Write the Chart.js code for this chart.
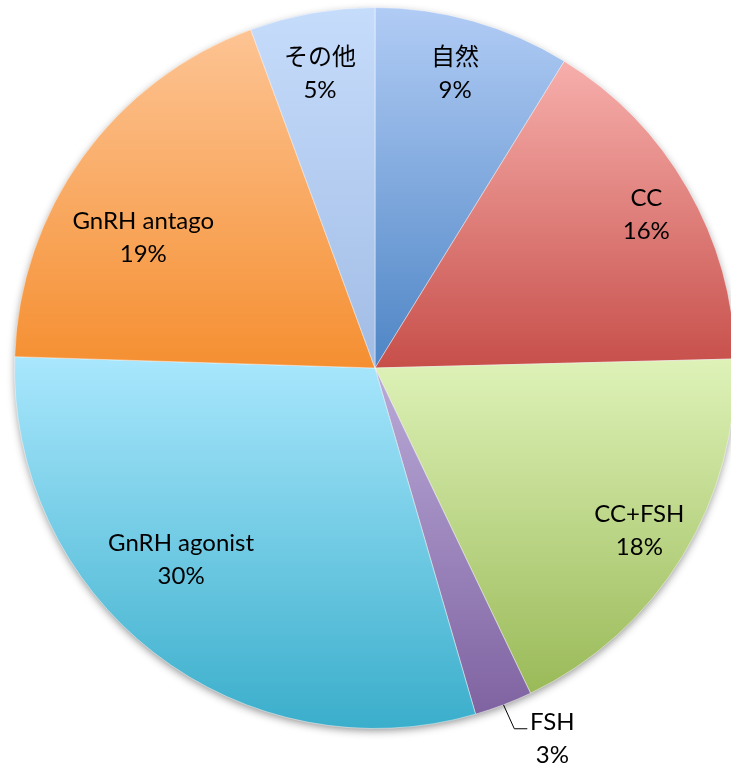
<!DOCTYPE html>
<html>
<head>
<meta charset="utf-8">
<script src="https://cdn.jsdelivr.net/npm/chart.js@4"></script>
<style>
  html, body { margin: 0; padding: 0; background: #fff; overflow: hidden; }
  #wrap { width: 750px; height: 769px; }
</style>
</head>
<body>
<div id="wrap"><canvas id="pieChart" width="750" height="769"></canvas></div>
<script>
// Data
const categories = ["自然", "CC", "CC+FSH", "FSH", "GnRH agonist", "GnRH antago", "その他"];
const shares = [8.8, 15.8, 18.3, 2.6, 30.0, 18.9, 5.6];
const percentLabels = ["9%", "16%", "18%", "3%", "30%", "19%", "5%"];

// Slice gradient colours (top -> bottom of each slice)
const colorTop = ["#b1ccf5", "#f7afac", "#def2b8", "#baaad8", "#a9e7fd", "#fdc494", "#c6dcfb"];
const colorBottom = ["#4e85c5", "#c74f4a", "#9aba58", "#7f63a1", "#3aaecb", "#f58f31", "#a1bce5"];

// Where each label sits: fraction along the slice angle, fraction of the radius
const labelPlacement = [
    { f: 0.48, r: 0.847 },
    { f: 0.506, r: 0.865 },
    { f: 0.5, r: 0.86 },
    { f: 0.0, r: 1.14, leader: true },
    { f: 0.57, r: 0.756 },
    { f: 0.406, r: 0.738 },
    { f: 0.475, r: 0.831 }
];

const labelFont = "24px Lato, 'Noto Sans CJK JP', sans-serif";

function sliceAngles(i) {
    const total = shares.reduce((s, v) => s + v, 0);
    let before = 0;
    for (let k = 0; k < i; k++) before += shares[k];
    const a0 = -Math.PI / 2 + before / total * Math.PI * 2;
    const a1 = a0 + shares[i] / total * Math.PI * 2;
    return [a0, a1];
}

function containsAngle(a0, a1, a) {
    while (a < a0) a += Math.PI * 2;
    return a <= a1;
}

function sliceGradient(context) {
    const chart = context.chart;
    const i = context.dataIndex;
    const area = chart.chartArea;
    if (!area || i === undefined) return colorBottom[i || 0];
    const cx = (area.left + area.right) / 2;
    const cy = (area.top + area.bottom) / 2;
    const r = Math.min(area.right - area.left, area.bottom - area.top) / 2;
    const [a0, a1] = sliceAngles(i);
    const ys = [cy, cy + r * Math.sin(a0), cy + r * Math.sin(a1)];
    if (containsAngle(a0, a1, Math.PI / 2)) ys.push(cy + r);
    if (containsAngle(a0, a1, -Math.PI / 2)) ys.push(cy - r);
    const top = Math.min(...ys);
    const bottom = Math.max(...ys);
    const g = chart.ctx.createLinearGradient(0, top, 0, bottom);
    g.addColorStop(0, colorTop[i]);
    g.addColorStop(1, colorBottom[i]);
    return g;
}

// soft drop shadow under the pie
const pieShadow = {
    id: "pieShadow",
    beforeDatasetsDraw(chart) {
        const arc = chart.getDatasetMeta(0).data[0];
        if (!arc) return;
        const ctx = chart.ctx;
        ctx.save();
        ctx.shadowColor = "rgba(0, 0, 0, 0.45)";
        ctx.shadowBlur = 9;
        ctx.shadowOffsetY = 3;
        ctx.beginPath();
        ctx.arc(arc.x, arc.y, arc.outerRadius - 1, 0, Math.PI * 2);
        ctx.fillStyle = "#999";
        ctx.fill();
        ctx.restore();
    }
};

// category + percent labels
const sliceLabels = {
    id: "sliceLabels",
    afterDatasetsDraw(chart) {
        const ctx = chart.ctx;
        const arcs = chart.getDatasetMeta(0).data;
        ctx.save();
        ctx.font = labelFont;
        ctx.fillStyle = "#000";
        ctx.textAlign = "center";
        ctx.textBaseline = "middle";
        arcs.forEach((arc, i) => {
            const p = labelPlacement[i];
            const a = arc.startAngle + (arc.endAngle - arc.startAngle) * p.f;
            let x = arc.x + Math.cos(a) * arc.outerRadius * p.r;
            let y = arc.y + Math.sin(a) * arc.outerRadius * p.r;
            if (p.leader) {
                const mid = (arc.startAngle + arc.endAngle) / 2;
                const sx = arc.x + Math.cos(mid) * arc.outerRadius;
                const sy = arc.y + Math.sin(mid) * arc.outerRadius;
                ctx.beginPath();
                ctx.moveTo(sx, sy);
                ctx.lineTo(x - 38, y - 10);
                ctx.lineTo(x - 25, y - 10);
                ctx.strokeStyle = "#000";
                ctx.lineWidth = 1;
                ctx.stroke();
            }
            ctx.fillText(categories[i], x, y - 16);
            ctx.fillText(percentLabels[i], x, y + 17);
        });
        ctx.restore();
    }
};

const ctx = document.getElementById("pieChart").getContext("2d");
new Chart(ctx, {
    type: "pie",
    data: {
        labels: categories,
        datasets: [{
            data: shares,
            backgroundColor: sliceGradient,
            borderColor: "rgba(255, 255, 255, 0.45)",
            borderWidth: 1,
            hoverOffset: 0
        }]
    },
    options: {
        responsive: false,
        animation: false,
        layout: { padding: { left: 14, right: 14, top: 7, bottom: 40 } },
        plugins: {
            legend: { display: false },
            tooltip: { enabled: false }
        }
    },
    plugins: [pieShadow, sliceLabels]
});
</script>
</body>
</html>
